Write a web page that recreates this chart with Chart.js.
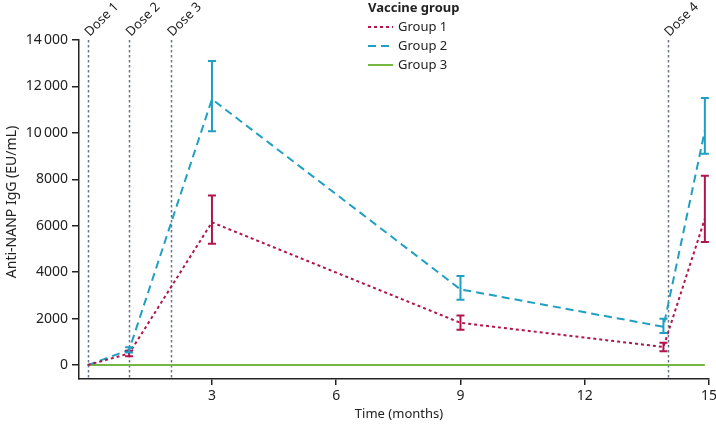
<!DOCTYPE html>
<html><head><meta charset="utf-8">
<script src="https://cdn.jsdelivr.net/npm/chart.js@4/dist/chart.umd.min.js"></script>
<style>html,body{margin:0;padding:0;background:#fff}#wrap{width:716px;height:428px;position:relative}canvas{display:block}</style>
</head><body><div id="wrap"><canvas id="c" width="716" height="428"></canvas></div>
<script>
const months = [0, 1, 3, 9, 13.9, 14.9];
const group1 = [0, 500, 6150, 1820, 780, 6300];
const group1Low = [0, 380, 5230, 1520, 600, 5300];
const group1High = [0, 620, 7300, 2130, 960, 8150];
const group2 = [0, 650, 11450, 3260, 1650, 10100];
const group2Low = [0, 540, 10070, 2810, 1380, 9100];
const group2High = [0, 770, 13100, 3840, 2000, 11500];
const group3 = [0, 0, 0, 0, 0, 0];
const doseTimes = [0, 1, 2, 14];
const doseLabels = ['Dose 1', 'Dose 2', 'Dose 3', 'Dose 4'];
const xTicks = [3, 6, 9, 12, 15];
const yTicks = [0, 2000, 4000, 6000, 8000, 10000, 12000, 14000];
const seriesNames = ['Group 1', 'Group 2', 'Group 3'];
const colors = ['#b0164c', '#1f9fc2', '#74b843'];
const dashes = [[3, 3], [8, 5], []];

const FONT = '"Noto Sans", "DejaVu Sans", sans-serif';
const pts = arr => months.map((m, i) => ({x: m, y: arr[i]}));
const fmt = v => v >= 10000 ? String(v).replace(/(\d+)(\d{3})$/, '$1\u2009$2') : String(v);

const errors = [[group1Low, group1High], [group2Low, group2High], null];

const overlay = {
  id: 'overlay',
  beforeDatasetsDraw(chart) {
    const {ctx, scales: {x, y}} = chart;
    ctx.save();
    ctx.strokeStyle = '#66768a';
    ctx.lineWidth = 1.5;
    ctx.setLineDash([2.5, 2.5]);
    doseTimes.forEach(t => {
      const px = Math.round(x.getPixelForValue(t)) + 0.5;
      ctx.beginPath();
      ctx.moveTo(px, y.getPixelForValue(14000));
      ctx.lineTo(px, chart.chartArea.bottom);
      ctx.stroke();
    });
    ctx.restore();
  },
  afterDatasetsDraw(chart) {
    const {ctx, scales: {x, y}} = chart;
    ctx.save();
    errors.forEach((e, si) => {
      if (!e) return;
      ctx.strokeStyle = colors[si];
      ctx.lineWidth = 2;
      ctx.setLineDash([]);
      months.forEach((m, i) => {
        if (e[0][i] === e[1][i]) return;
        const px = x.getPixelForValue(m);
        const lo = y.getPixelForValue(e[0][i]);
        const hi = y.getPixelForValue(e[1][i]);
        ctx.beginPath();
        ctx.moveTo(px, lo); ctx.lineTo(px, hi);
        ctx.moveTo(px - 4, lo); ctx.lineTo(px + 4, lo);
        ctx.moveTo(px - 4, hi); ctx.lineTo(px + 4, hi);
        ctx.stroke();
      });
    });
    // dose labels
    ctx.fillStyle = '#222';
    ctx.font = '13px ' + FONT;
    ctx.textAlign = 'left';
    ctx.textBaseline = 'alphabetic';
    doseTimes.forEach((t, i) => {
      const px = x.getPixelForValue(t);
      ctx.save();
      ctx.translate(px + 2, 37);
      ctx.rotate(-Math.PI / 4);
      ctx.fillText(doseLabels[i], 0, 0);
      ctx.restore();
    });
    // legend
    ctx.font = 'bold 13px ' + FONT;
    ctx.textBaseline = 'middle';
    ctx.fillText('Vaccine group', 368, 8);
    ctx.font = '13px ' + FONT;
    seriesNames.forEach((n, i) => {
      const yy = 27 + i * 19;
      ctx.strokeStyle = colors[i];
      ctx.lineWidth = 2;
      ctx.setLineDash(dashes[i]);
      ctx.beginPath();
      ctx.moveTo(368, yy); ctx.lineTo(393, yy);
      ctx.stroke();
      ctx.fillText(n, 398, yy);
    });
    // y title
    ctx.font = '14px ' + FONT;
    ctx.save();
    ctx.translate(12, 202);
    ctx.rotate(-Math.PI / 2);
    ctx.textAlign = 'center';
    ctx.fillText('Anti-NANP IgG (EU/mL)', 0, 0);
    ctx.restore();
    ctx.font = '13px ' + FONT;
    ctx.textAlign = 'center';
    ctx.fillText('Time (months)', 399, 414);
    ctx.restore();
  }
};

new Chart(document.getElementById('c'), {
  type: 'line',
  data: {
    datasets: [group1, group2, group3].map((arr, i) => ({
      label: seriesNames[i],
      data: pts(arr),
      borderColor: colors[i],
      borderWidth: 2,
      borderDash: dashes[i],
      pointRadius: 0,
      fill: false,
      tension: 0
    }))
  },
  options: {
    responsive: false,
    animation: false,
    devicePixelRatio: 1,
    layout: {padding: {top: 40, right: 7, left: 0, bottom: 0}},
    plugins: {legend: {display: false}, tooltip: {enabled: false}},
    scales: {
      x: {
        type: 'linear', min: -0.21, max: 15,
        afterBuildTicks: s => { s.ticks = xTicks.map(v => ({value: v})); },
        afterFit: s => { s.height = 49; s.paddingLeft = 0; s.paddingRight = 0; },
        grid: {drawOnChartArea: false, drawTicks: true, tickLength: 6, color: '#222', lineWidth: 1.5},
        border: {display: true, color: '#222', width: 1.5},
        ticks: {color: '#222', font: {family: FONT, size: 14}, padding: 3, maxRotation: 0}
      },
      y: {
        type: 'linear', min: -600, max: 14000,
        afterBuildTicks: s => { s.ticks = yTicks.map(v => ({value: v})); },
        afterFit: s => { s.width = 79; s.paddingTop = 0; s.paddingBottom = 0; },
        grid: {drawOnChartArea: false, drawTicks: true, tickLength: 7, color: '#222', lineWidth: 1.5},
        border: {display: true, color: '#222', width: 1.5},
        ticks: {color: '#222', font: {family: FONT, size: 14}, padding: 4, autoSkip: false, callback: v => fmt(v)}
      }
    }
  },
  plugins: [overlay]
});
</script>
</body></html>
